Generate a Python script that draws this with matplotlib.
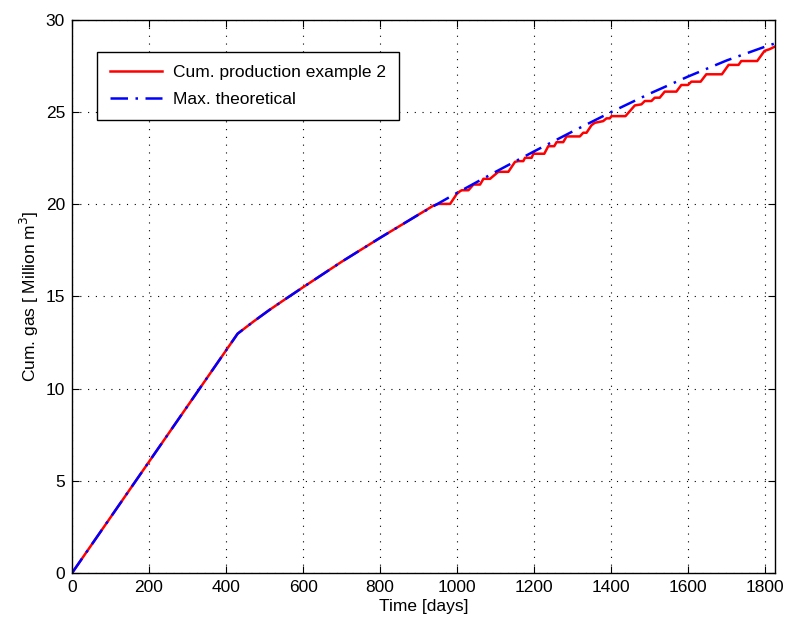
import matplotlib
matplotlib.use('Agg')
import matplotlib.pyplot as plt

# Theoretical maximum cumulative gas [Million m3] vs time [days]
t_max = [0, 430, 470, 512, 550, 600, 700, 800, 900, 1000, 1100, 1200, 1300,
         1400, 1500, 1600, 1700, 1800, 1825]
gas_max = [0, 12.98, 13.62, 14.26, 14.8, 15.5, 16.88, 18.18, 19.44, 20.62,
           21.76, 22.87, 23.95, 25.0, 26.0, 26.93, 27.8, 28.55, 28.72]

# Cumulative production, example 2 (shut-in periods give the steps)
t_prod = [0, 430, 470, 512, 550, 600, 700, 800, 900, 938.7, 951.6, 981.9,
          999.1, 1007.8, 1012.1, 1029.4, 1042.3, 1059.6, 1068.3, 1085.5,
          1107.1, 1133.1, 1150.3, 1159.0, 1171.9, 1176.3, 1193.5, 1197.9,
          1226.4, 1236.7, 1252.3, 1258.3, 1275.6, 1284.3, 1318.8, 1327.5,
          1336.1, 1349.1, 1357.7, 1379.3, 1387.9, 1396.6, 1400.9, 1437.2,
          1461.4, 1478.7, 1487.3, 1504.6, 1513.2, 1526.2, 1539.1, 1569.4,
          1582.3, 1599.6, 1608.3, 1632.4, 1647.1, 1687.7, 1705.0, 1730.9,
          1737.9, 1779.3, 1798.3, 1811.3, 1825]
gas_prod = [0, 12.98, 13.62, 14.26, 14.8, 15.5, 16.88, 18.18, 19.44, 19.93,
            20.02, 20.02, 20.56, 20.71, 20.76, 20.76, 21.07, 21.07, 21.38,
            21.38, 21.76, 21.76, 22.30, 22.34, 22.34, 22.52, 22.52, 22.74,
            22.74, 23.15, 23.15, 23.37, 23.37, 23.68, 23.68, 23.88, 23.88,
            24.29, 24.42, 24.51, 24.66, 24.66, 24.78, 24.78, 25.36, 25.42,
            25.60, 25.60, 25.78, 25.78, 26.11, 26.11, 26.47, 26.47, 26.65,
            26.65, 27.05, 27.05, 27.56, 27.56, 27.77, 27.77, 28.32, 28.41,
            28.55]

x_ticks = [0, 200, 400, 600, 800, 1000, 1200, 1400, 1600, 1800]
y_ticks = [0, 5, 10, 15, 20, 25, 30]

plt.rcParams['font.family'] = ['Liberation Sans', 'DejaVu Sans']
plt.rcParams['font.size'] = 12.5

fig = plt.figure(figsize=(7.89, 6.22), dpi=100)
ax = fig.add_axes([0.0913, 0.0788, 0.8907, 0.8892])

ax.plot(t_prod, gas_prod, color='red', lw=1.8, label='Cum. production example 2')
ax.plot(t_max, gas_max, color='blue', lw=1.8, ls=(0, (7, 3, 1, 3)),
        label='Max. theoretical')

ax.set_xlim(0, 1825)
ax.set_ylim(0, 30)
ax.set_xticks(x_ticks)
ax.set_yticks(y_ticks)
ax.tick_params(direction='in', top=True, right=True, length=5, width=0.8,
               pad=5)
ax.grid(True, color='black', ls=(0, (1, 6)), lw=0.8)
for s in ax.spines.values():
    s.set_linewidth(1.0)

ax.set_xlabel('Time [days]', labelpad=3)
ax.set_ylabel('Cum. gas [ Million m$^3$]', labelpad=3)

leg = ax.legend(loc='upper left', bbox_to_anchor=(0.0356, 0.942),
                borderaxespad=0, fancybox=False, framealpha=1,
                edgecolor='black', handlelength=3.0, borderpad=0.75,
                labelspacing=0.65, handletextpad=0.6)
leg.get_frame().set_linewidth(1.0)

fig.savefig('out.png', dpi=100)
